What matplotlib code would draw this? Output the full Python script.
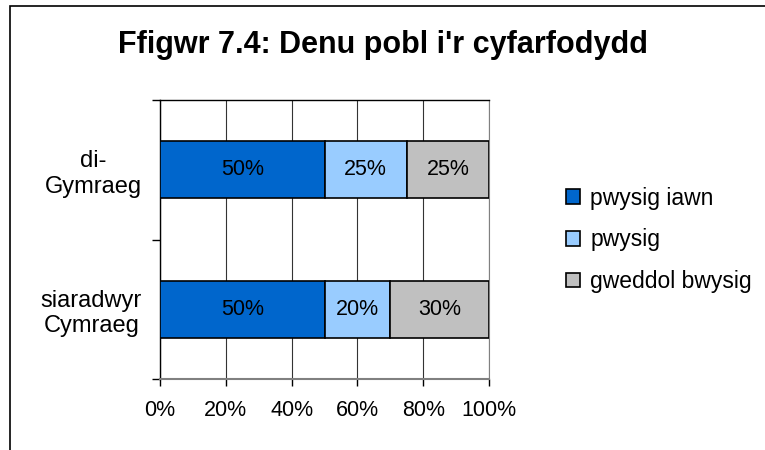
import numpy as np
import matplotlib.pyplot as plt
from matplotlib.patches import Rectangle

plt.rcParams['font.family'] = ['Liberation Sans', 'DejaVu Sans']

# Data
categories = ["siaradwyr\nCymraeg", "di-\nGymraeg"]
series_names = ["pwysig iawn", "pwysig", "gweddol bwysig"]
values = {
    "pwysig iawn": [50, 50],
    "pwysig": [20, 25],
    "gweddol bwysig": [30, 25],
}
colors = ["#0066CC", "#99CCFF", "#C0C0C0"]

fig = plt.figure(figsize=(7.65, 4.5), dpi=100)
ax = fig.add_axes([160 / 765, 1 - 379 / 450, 329 / 765, 279 / 450])

y = np.arange(len(categories))
left = np.zeros(len(categories))
for name, col in zip(series_names, colors):
    vals = np.array(values[name], dtype=float)
    bars = ax.barh(y, vals, left=left, height=0.41, color=col,
                   edgecolor="black", linewidth=1.2, label=name, zorder=3)
    for b, v in zip(bars, vals):
        ax.text(b.get_x() + b.get_width() / 2, b.get_y() + b.get_height() / 2,
                f"{v:.0f}%", ha="center", va="center", fontsize=15.5, zorder=4)
    left += vals

ax.set_xlim(0, 100)
ax.set_ylim(-0.5, len(categories) - 0.5)

# x axis
ax.set_xticks(np.arange(0, 101, 20))
ax.set_xticklabels([f"{t}%" for t in range(0, 101, 20)], fontsize=15.5)
ax.tick_params(axis="x", direction="out", length=5, width=1, pad=10, colors="black")
ax.xaxis.grid(True, color="#333333", linewidth=0.8, zorder=0)

# y axis: ticks at boundaries, labels at centres
ax.set_yticks(np.arange(-0.5, len(categories), 1.0))
ax.set_yticklabels([])
ax.tick_params(axis="y", which="major", direction="out", length=6, width=1)
ax.set_yticks(y, minor=True)
ax.set_yticklabels(categories, minor=True, fontsize=17, multialignment="center")
ax.tick_params(axis="y", which="minor", length=0, pad=13)

for s in ["left", "top"]:
    ax.spines[s].set_color("black")
    ax.spines[s].set_linewidth(1.0)
ax.spines["right"].set_color("#808080")
ax.spines["bottom"].set_color("#808080")
ax.spines["bottom"].set_linewidth(1.5)

fig.text(0.5, 1 - 45 / 450, "Ffigwr 7.4: Denu pobl i'r cyfarfodydd",
         ha="center", va="center", fontsize=22, fontweight="bold")

ax.legend(loc="center left", bbox_to_anchor=(557 / 765, 1 - 240 / 450),
          bbox_transform=fig.transFigure, frameon=False, fontsize=16.5,
          handlelength=0.6, handleheight=0.6, handletextpad=0.45,
          labelspacing=0.82, borderaxespad=0)

# outer frame (cut off at right and bottom)
fig.patches.append(Rectangle((10 / 765, -0.5), 2, 1.5 - 5.5 / 450,
                             transform=fig.transFigure, fill=False,
                             edgecolor="black", linewidth=1.2, clip_on=False))

fig.savefig("out.png", dpi=100)
